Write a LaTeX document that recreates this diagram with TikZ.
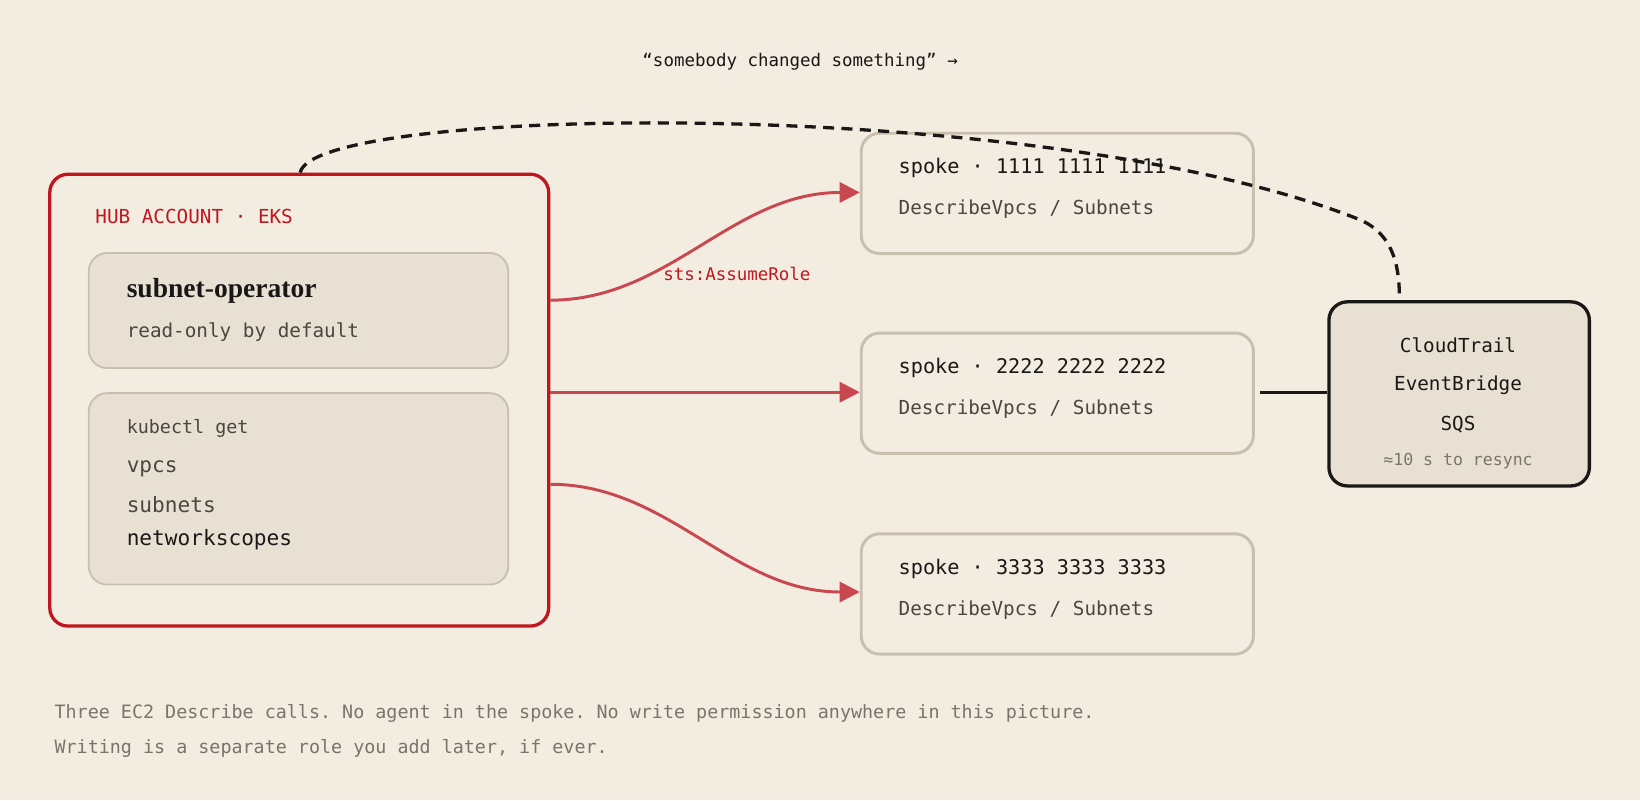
\documentclass[tikz,border=0pt]{standalone}
\usepackage{fontspec}
\setmainfont{Liberation Serif}
\setmonofont{DejaVu Sans Mono}
\usetikzlibrary{positioning,calc,arrows.meta}
\definecolor{paper}{HTML}{F2ECE1}
\definecolor{card}{HTML}{E8E1D3}
\definecolor{edge}{HTML}{C9BFAE}
\definecolor{hubred}{HTML}{C0171F}
\definecolor{link}{HTML}{C9474F}
\definecolor{ink}{HTML}{1A1816}
\definecolor{muted}{HTML}{4A4640}
\definecolor{note}{HTML}{7A746B}
\begin{document}
\begin{tikzpicture}[x=0.02cm,y=-0.02cm,
    box/.style={draw=edge,line width=1.6pt,rounded corners=10pt,fill=paper,anchor=north west,inner sep=0},
    card/.style={box,fill=card,line width=1pt},
    txt/.style={anchor=west,font=\ttfamily\fontsize{10.5}{12}\selectfont,text=ink},
    sub/.style={txt,text=muted},
    link/.style={draw=link,line width=1.6pt,-{Triangle[length=11pt,width=11pt]}}]
  \fill[paper] (0,0) rectangle (1568,765);
  \useasboundingbox (0,0) rectangle (1568,765);

  % hub
  \node[box,draw=hubred,line width=1.8pt,minimum width=477*0.02cm,minimum height=432*0.02cm] (hub) at (46,165) {};
  \node[txt,text=hubred] (hubt) at (85,207) {HUB ACCOUNT · EKS};
  \node[card,minimum width=401*0.02cm,minimum height=110*0.02cm] (op) at (84,241) {};
  \node[anchor=west,font=\bfseries\fontsize{15}{17}\selectfont,text=ink] (opt) at (115,278) {subnet-operator};
  \node[sub] (ops) at (115,318) {read-only by default};
  \node[card,minimum width=401*0.02cm,minimum height=183*0.02cm] (kc) at (84,375) {};
  \node[sub,font=\ttfamily\fontsize{10}{12}\selectfont] (kct) at (115,410) {kubectl get};
  \node[sub,font=\ttfamily\fontsize{11.5}{13}\selectfont] (kc1) at (115,448) {vpcs};
  \node[sub,font=\ttfamily\fontsize{11.5}{13}\selectfont] (kc2) at (115,482) {subnets};
  \node[txt,font=\ttfamily\fontsize{11.5}{13}\selectfont] (kc3) at (115,516) {networkscopes};

  % spokes
  \foreach \n/\y/\id in {1/126/1111 1111 1111,2/317/2222 2222 2222,3/509/3333 3333 3333}{
    \node[box,minimum width=375*0.02cm,minimum height=115*0.02cm] (sp\n) at (822,\y) {};
    \node[txt,font=\ttfamily\fontsize{11}{13}\selectfont] at (853,\y+35) {spoke · \id};
    \node[sub] at (853,\y+74) {DescribeVpcs / Subnets};
  }

  % events
  \node[card,draw=ink,line width=1.8pt,minimum width=249*0.02cm,minimum height=176*0.02cm] (ev) at (1269,287) {};
  \node[txt,anchor=center] (ev1) at (1394,330) {CloudTrail};
  \node[txt,anchor=center] (ev2) at (1394,368) {EventBridge};
  \node[txt,anchor=center] (ev3) at (1394,406) {SQS};
  \node[sub,anchor=center,text=note,font=\ttfamily\fontsize{9}{11}\selectfont] (ev4) at (1394,441) {≈10 s to resync};

  % arrows
  \draw[link] (hub.east |- 0,287) .. controls (640,287) and (700,184) .. (sp1.west |- 0,184);
  \draw[link] (hub.east |- 0,375) -- (sp2.west |- 0,375);
  \draw[link] (hub.east |- 0,463) .. controls (640,463) and (700,566) .. (sp3.west |- 0,566);
  \node[txt,text=hubred,font=\ttfamily\fontsize{9.5}{11}\selectfont] (role) at (628,262) {sts:AssumeRole};
  \coordinate (tap) at (1205,375);
  \draw[ink,line width=1.6pt] (tap) -- (ev.west |- tap);
  \draw[ink,line width=1.8pt,dash pattern=on 6pt off 4pt] ($(hub.north west)+(241,0)$) .. controls (300,100) and (1000,90) .. (1300,210) .. controls (1335,225) and (1338,260) .. (ev.north -| 1338,0);
  \node[txt,anchor=center,font=\ttfamily\fontsize{9.5}{11}\selectfont] (chg) at (765,59) {“somebody changed something” →};

  % footer
  \node[txt,text=note,font=\ttfamily\fontsize{10}{12}\selectfont] (f1) at (46,682) {Three EC2 Describe calls. No agent in the spoke. No write permission anywhere in this picture.};
  \node[txt,text=note,font=\ttfamily\fontsize{10}{12}\selectfont] (f2) at (46,716) {Writing is a separate role you add later, if ever.};
\end{tikzpicture}
\end{document}
